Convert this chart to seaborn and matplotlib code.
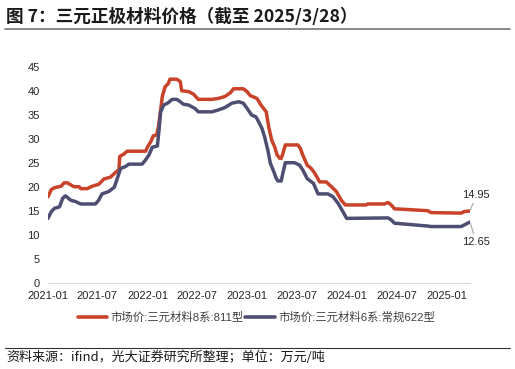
import pandas as pd
import numpy as np
import matplotlib
matplotlib.use('Agg')
import matplotlib.pyplot as plt
import matplotlib.dates as mdates
import seaborn as sns

# Data (万元/吨)
dates_811 = ['2021-01-01', '2021-01-13', '2021-01-25', '2021-02-18', '2021-03-01', '2021-03-13',
             '2021-04-06', '2021-04-25', '2021-05-01', '2021-05-25', '2021-06-12', '2021-07-06',
             '2021-07-25', '2021-08-18', '2021-09-06', '2021-09-18', '2021-09-21', '2021-10-06',
             '2021-10-18', '2021-12-25', '2022-01-01', '2022-01-13', '2022-01-22', '2022-02-03',
             '2022-02-10', '2022-02-18', '2022-02-24', '2022-03-06', '2022-03-18', '2022-03-24',
             '2022-04-18', '2022-05-01', '2022-05-06', '2022-06-01', '2022-06-18', '2022-07-06',
             '2022-08-25', '2022-09-18', '2022-10-12', '2022-11-01', '2022-11-12', '2022-12-18',
             '2023-01-01', '2023-01-12', '2023-01-24', '2023-02-06', '2023-02-21', '2023-03-12',
             '2023-03-21', '2023-04-01', '2023-04-12', '2023-04-21', '2023-05-01', '2023-05-06',
             '2023-05-12', '2023-05-21', '2023-07-06', '2023-07-15', '2023-07-24', '2023-08-09',
             '2023-08-24', '2023-09-06', '2023-09-24', '2023-10-18', '2023-11-06', '2023-11-24',
             '2023-12-12', '2023-12-27', '2024-03-12', '2024-03-18', '2024-05-18', '2024-06-01',
             '2024-06-12', '2024-06-24', '2024-08-24', '2024-10-24', '2024-11-06', '2025-02-24',
             '2025-03-06', '2025-03-28']
price_811 = [17.9, 19.4, 19.8, 20.1, 20.8, 20.8,
             20.0, 20.0, 19.6, 19.6, 20.1, 20.5,
             21.6, 22.0, 23.0, 23.5, 26.3, 26.8,
             27.4, 27.4, 28.3, 29.4, 30.6, 30.8,
             32.5, 36.0, 38.8, 40.8, 41.5, 42.4,
             42.4, 41.9, 40.0, 39.8, 39.3, 38.2,
             38.2, 38.4, 38.8, 39.6, 40.4, 40.4,
             39.8, 39.0, 38.7, 38.4, 37.0, 35.6,
             32.5, 29.7, 28.3, 26.6, 25.9, 25.9,
             26.9, 28.7, 28.7, 28.0, 26.6, 24.5,
             23.8, 22.8, 21.0, 21.0, 20.0, 19.0,
             17.2, 16.2, 16.2, 16.4, 16.4, 16.7,
             16.2, 15.4, 15.2, 15.0, 14.6, 14.5,
             14.8, 14.95]

dates_622 = ['2021-01-01', '2021-01-13', '2021-01-25', '2021-02-12', '2021-02-24', '2021-03-06',
             '2021-03-25', '2021-04-12', '2021-05-01', '2021-06-24', '2021-07-06', '2021-07-18',
             '2021-08-12', '2021-09-01', '2021-09-12', '2021-09-24', '2021-10-12', '2021-10-24',
             '2021-12-12', '2021-12-25', '2022-01-06', '2022-01-18', '2022-02-06', '2022-02-12',
             '2022-02-18', '2022-03-01', '2022-03-18', '2022-04-01', '2022-04-18', '2022-05-01',
             '2022-05-12', '2022-06-01', '2022-06-24', '2022-07-06', '2022-08-25', '2022-09-18',
             '2022-10-12', '2022-11-06', '2022-12-01', '2022-12-18', '2023-01-01', '2023-01-18',
             '2023-02-01', '2023-02-06', '2023-02-24', '2023-03-06', '2023-03-18', '2023-03-27',
             '2023-04-09', '2023-04-18', '2023-04-24', '2023-05-06', '2023-05-12', '2023-05-21',
             '2023-06-24', '2023-07-12', '2023-07-24', '2023-08-09', '2023-09-01', '2023-09-18',
             '2023-10-24', '2023-11-12', '2023-12-01', '2023-12-18', '2024-01-01', '2024-06-01',
             '2024-06-12', '2024-06-24', '2024-08-24', '2024-10-24', '2024-11-06', '2025-02-24',
             '2025-03-06', '2025-03-28']
price_622 = [13.4, 14.8, 15.5, 15.8, 17.6, 18.1,
             17.2, 16.9, 16.4, 16.4, 17.2, 18.5,
             19.0, 19.9, 21.7, 23.8, 24.2, 24.7,
             24.7, 25.6, 26.6, 28.2, 28.5, 31.8,
             35.6, 37.0, 37.5, 38.2, 38.2, 37.7,
             37.2, 37.0, 36.3, 35.6, 35.6, 36.0,
             36.5, 37.4, 37.7, 37.4, 36.3, 34.9,
             34.6, 34.2, 32.2, 30.4, 27.6, 24.9,
             23.1, 21.7, 21.2, 21.2, 22.8, 25.0,
             25.0, 24.5, 23.5, 21.7, 20.7, 18.5,
             18.5, 17.9, 16.5, 14.8, 13.4, 13.5,
             13.1, 12.4, 12.1, 11.8, 11.7, 11.7,
             12.0, 12.65]

name_811 = '市场价:三元材料8系:811型'
name_622 = '市场价:三元材料6系:常规622型'
colors = ['#C9432A', '#4E4E73']
tick_dates = ['2021-01', '2021-07', '2022-01', '2022-07', '2023-01',
              '2023-07', '2024-01', '2024-07', '2025-01']

df = pd.concat([
    pd.DataFrame({'date': pd.to_datetime(dates_811), 'price': price_811, 'series': name_811}),
    pd.DataFrame({'date': pd.to_datetime(dates_622), 'price': price_622, 'series': name_622}),
])

sns.set_style('white')
plt.rcParams['font.family'] = ['Liberation Sans', 'Noto Sans CJK SC']

fig = plt.figure(figsize=(5.15, 3.69), dpi=100)
ax = fig.add_axes([0.0932, 0.2339, 0.8194, 0.5853])

sns.lineplot(data=df, x='date', y='price', hue='series', palette=colors,
             linewidth=2.5, ax=ax, legend=True)

ax.set_ylim(0, 45)
ax.set_yticks(np.arange(0, 46, 5))
ax.set_xlim(pd.Timestamp('2021-01-01'), pd.Timestamp('2025-03-28'))
ax.set_xticks(pd.to_datetime(tick_dates))
ax.xaxis.set_major_formatter(mdates.DateFormatter('%Y-%m'))
ax.set_xlabel('')
ax.set_ylabel('')
for s in ['top', 'right', 'left']:
    ax.spines[s].set_visible(False)
ax.spines['bottom'].set_color('#D9D9D9')
ax.tick_params(axis='x', length=3, color='#D9D9D9', labelsize=8, labelcolor='#262626', pad=3)
ax.tick_params(axis='y', length=0, labelsize=8, labelcolor='#262626', pad=6)

# end-value labels
end_811 = pd.Timestamp(dates_811[-1])
end_622 = pd.Timestamp(dates_622[-1])
ax.annotate(f'{price_811[-1]:.2f}', xy=(end_811, price_811[-1]), xytext=(4.5, 11.5),
            textcoords='offset points', fontsize=8, color='#262626', ha='center', va='center',
            arrowprops=dict(arrowstyle='-', color='#A6A6A6', lw=0.8, shrinkA=0, shrinkB=1))
ax.annotate(f'{price_622[-1]:.2f}', xy=(end_622, price_622[-1]), xytext=(4.5, -14.5),
            textcoords='offset points', fontsize=8, color='#262626', ha='center', va='center',
            arrowprops=dict(arrowstyle='-', color='#A6A6A6', lw=0.8, shrinkA=0, shrinkB=1))

leg = ax.legend(loc='center', bbox_to_anchor=(0.494, -0.159), ncol=2, frameon=False,
                fontsize=8.2, handlelength=2.6, handletextpad=0.3, columnspacing=0.1,
                labelcolor='#404040')
for line in leg.get_lines():
    line.set_linewidth(2.6)

# title and source
fig.text(0.012, 0.953, '图 7：三元正极材料价格（截至 2025/3/28）', fontsize=12.7, fontweight='bold',
         family=['Noto Sans CJK SC'], color='#1a1a1a', va='center', ha='left')
fig.add_artist(plt.Line2D([0.01, 0.99], [0.921, 0.921], color='#808080', lw=1.3))
fig.add_artist(plt.Line2D([0.01, 0.99], [0.058, 0.058], color='#333333', lw=0.8))
fig.text(0.012, 0.033, '资料来源：ifind，光大证券研究所整理；单位：万元/吨', fontsize=9.4,
         family=['Noto Sans CJK SC'], color='#1a1a1a', va='center', ha='left')

fig.savefig('out.png', dpi=100)
